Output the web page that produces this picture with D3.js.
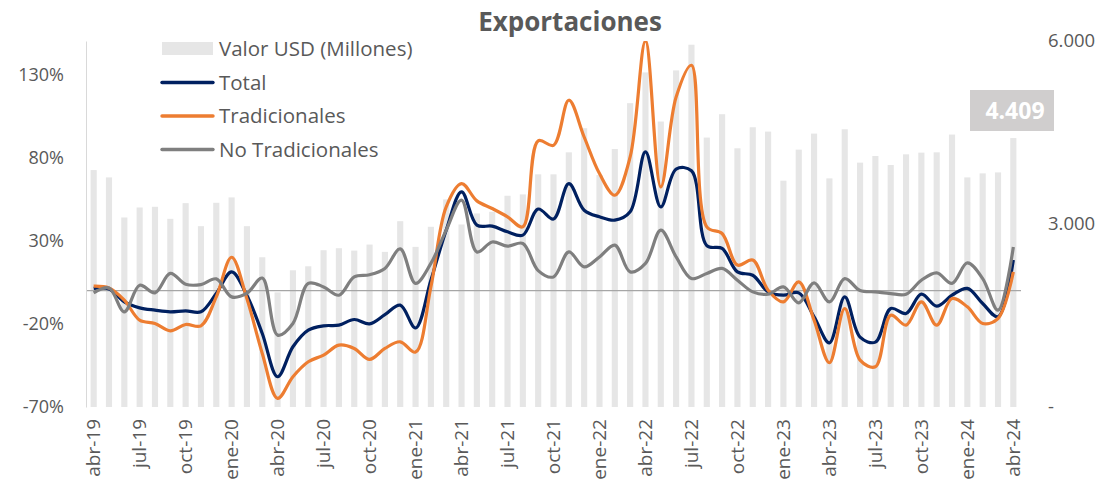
<!DOCTYPE html>
<html>
<head>
<meta charset="utf-8">
<script src="https://cdn.jsdelivr.net/npm/d3@7"></script>
<style>
  body { margin: 0; background: #fff; }
  text { font-family: "Open Sans", sans-serif; }
</style>
</head>
<body>
<svg id="chart" width="1107" height="490"></svg>
<script>
// months from abr-19 to abr-24
const monthNames = ["ene", "feb", "mar", "abr", "may", "jun", "jul", "ago", "sep", "oct", "nov", "dic"];
const months = [];
for (let k = 0; k < 61; k++) {
  const m = (3 + k) % 12, yr = 19 + Math.floor((3 + k) / 12);
  months.push(monthNames[m] + "-" + yr);
}

// valor USD (millones) - bars, right axis
const valorUSD = [3884, 3764, 3107, 3271, 3282, 3085, 3342, 2964, 3348, 3436, 2964, 2455, 1879, 2241, 2307, 2570,
  2603, 2564, 2663, 2543, 3046, 2625, 2954, 3403, 2992, 3173, 3200, 3463, 3485, 3814, 3814, 4175, 4570, 3803, 4230,
  4981, 5485, 4680, 5518, 5939, 4417, 4800, 4241, 4586, 4515, 3710, 4219, 4482, 3748, 4553, 4006, 4115, 3967, 4142,
  4170, 4175, 4466, 3764, 3830, 3846, 4409];

// variacion % - lines, left axis
const total = [1.3, 1, -6.8, -10.4, -11.8, -12.8, -12.2, -12.8, -1.8, 11.2, -3, -25.8, -51.8, -33.8, -23.8, -21.2,
  -20.8, -17.4, -20, -14.5, -8.8, -22.5, 6.2, 36.3, 59.3, 39.3, 38.7, 35.3, 33.3, 49, 43, 64.3, 48.3, 44.3, 42.3,
  47.3, 83.3, 50.3, 73, 72, 27, 25.3, 11.2, 9.2, -0.8, -2.8, -1.4, -15.8, -31.4, -3.8, -28, -31, -10.8, -13.8, -2.2,
  -9.4, -2.8, 1.3, -7.8, -15.8, 18.3];
const tradicionales = [2.6, 1.5, -5.8, -17.8, -19.8, -24.2, -20.4, -21.2, -3.8, 20, -5, -37.8, -64.8, -51.8, -42.8,
  -38.8, -32.8, -34.8, -41.4, -34.8, -30.8, -37, 2.2, 50.3, 64.3, 53.9, 49.3, 44.3, 38.3, 90, 87.3, 114.4, 92.3, 70.3,
  57.3, 80.3, 150, 62.3, 116.3, 135.4, 38.3, 34.3, 15.3, 18.3, 0.2, -6.8, 5.2, -17.8, -43.4, -10.8, -41.8, -45.8,
  -14.8, -20.8, -6.8, -20.8, -4.8, -9.8, -19.8, -16.8, 11.2];
const noTradicionales = [-1.4, 1.6, -12.8, 3.2, -1.4, 10.3, 3.8, 3.6, 7, -3.8, -1.6, 7.5, -26.8, -19.8, 4.3, 2.2,
  -2.8, 8.2, 9.5, 13.3, 25, 4.3, 16.3, 36.3, 54.3, 23.2, 29.2, 26.7, 28.3, 12, 8.2, 23.2, 14.2, 20.2, 27.3, 11.2,
  16.3, 36.3, 20.2, 7.2, 10.3, 13.3, 6.2, -0.8, -2.2, 2.2, -7.4, 4.6, -6.8, 7.2, 0, -0.8, -1.8, -2.2, 6.2, 10.6, 4.3,
  16.6, 7.2, -11.8, 26.2];

const leftTicks = [-70, -20, 30, 80, 130];
const rightTicks = [0, 3000, 6000];
const lastLabel = "4.409";

const series = [
  { name: "Total", values: total, color: "#002060" },
  { name: "Tradicionales", values: tradicionales, color: "#ED7D31" },
  { name: "No Tradicionales", values: noTradicionales, color: "#7F7F7F" }
];

const margin = { top: 41, right: 86, bottom: 83, left: 86 };
const W = 1107, H = 490;
const svg = d3.select("#chart");

const x = d3.scaleBand().domain(months).range([margin.left, W - margin.right]).paddingInner(0.6).paddingOuter(0.3);
const yL = d3.scaleLinear().domain([-70, 150]).range([H - margin.bottom, margin.top]);
const yR = d3.scaleLinear().domain([0, 6000]).range([H - margin.bottom, margin.top]);
const cx = d => x(d) + x.bandwidth() / 2;

const loc = d3.formatLocale({ decimal: ",", thousands: ".", grouping: [3], currency: ["$", ""] });
const fmtR = loc.format(",.0f");

svg.append("clipPath").attr("id", "plot")
  .append("rect").attr("x", margin.left).attr("y", margin.top)
  .attr("width", W - margin.left - margin.right).attr("height", H - margin.top - margin.bottom);

// bars
svg.append("g").selectAll("rect").data(valorUSD).enter().append("rect")
  .attr("x", (d, i) => x(months[i]))
  .attr("width", x.bandwidth())
  .attr("y", d => yR(d))
  .attr("height", d => yR(0) - yR(d))
  .attr("fill", "#E6E6E6");

// zero line
svg.append("line")
  .attr("x1", margin.left).attr("x2", W - margin.right)
  .attr("y1", yL(0)).attr("y2", yL(0))
  .attr("stroke", "#A6A6A6").attr("stroke-width", 1.2);

// left axis
const gL = svg.append("g").attr("transform", "translate(" + margin.left + ",0)")
  .call(d3.axisLeft(yL).tickValues(leftTicks).tickSize(0).tickPadding(22).tickFormat(d => d + "%"));
gL.select(".domain").attr("stroke", "#D9D9D9");
gL.selectAll("text").attr("fill", "#595959").style("font-size", "18px");

// right axis
const gR = svg.append("g").attr("transform", "translate(" + (W - margin.right) + ",0)")
  .call(d3.axisRight(yR).tickValues(rightTicks).tickSize(0).tickPadding(27)
    .tickFormat(d => d === 0 ? "-" : fmtR(d)));
gR.select(".domain").remove();
gR.selectAll("text").attr("fill", "#595959").style("font-size", "18.5px");

// x axis
const gX = svg.append("g").attr("transform", "translate(0," + (H - margin.bottom) + ")")
  .call(d3.axisBottom(x).tickValues(months.filter((d, i) => i % 3 === 0)).tickSize(0));
gX.select(".domain").remove();
gX.selectAll("text")
  .attr("fill", "#595959").style("font-size", "19px")
  .attr("text-anchor", "end")
  .attr("transform", "rotate(-90)")
  .attr("x", -12).attr("y", 0).attr("dy", "0.35em");

// lines
const line = d3.line().x((d, i) => cx(months[i])).y(d => yL(d)).curve(d3.curveCatmullRom.alpha(0.5));
svg.append("g").attr("clip-path", "url(#plot)").selectAll("path").data(series).enter().append("path")
  .attr("d", d => line(d.values))
  .attr("fill", "none")
  .attr("stroke", d => d.color)
  .attr("stroke-width", 3.2)
  .attr("stroke-linejoin", "round");

// last value label
svg.append("rect").attr("x", 970).attr("y", 90).attr("width", 84).attr("height", 41).attr("fill", "#D0CECE");
svg.append("text").attr("x", 1015).attr("y", 119).attr("text-anchor", "middle")
  .attr("fill", "#fff").style("font-size", "23px").style("font-weight", "bold").text(lastLabel);

// title
svg.append("text").attr("x", 570).attr("y", 31).attr("text-anchor", "middle")
  .attr("fill", "#595959").style("font-size", "26px").style("font-weight", "bold").text("Exportaciones");

// legend
const lg = svg.append("g").attr("transform", "translate(162,49)");
lg.append("rect").attr("x", 0).attr("y", -7).attr("width", 51).attr("height", 13).attr("fill", "#E6E6E6");
lg.append("text").attr("x", 57).attr("y", 0).attr("dy", "0.35em").attr("fill", "#595959")
  .style("font-size", "20.5px").text("Valor USD (Millones)");
series.forEach((s, i) => {
  const yy = 33.5 * (i + 1);
  lg.append("line").attr("x1", 0).attr("x2", 51).attr("y1", yy).attr("y2", yy)
    .attr("stroke", s.color).attr("stroke-width", 3.4).attr("stroke-linecap", "round");
  lg.append("text").attr("x", 57).attr("y", yy).attr("dy", "0.35em").attr("fill", "#595959")
    .style("font-size", "20.5px").text(s.name);
});
</script>
</body>
</html>
